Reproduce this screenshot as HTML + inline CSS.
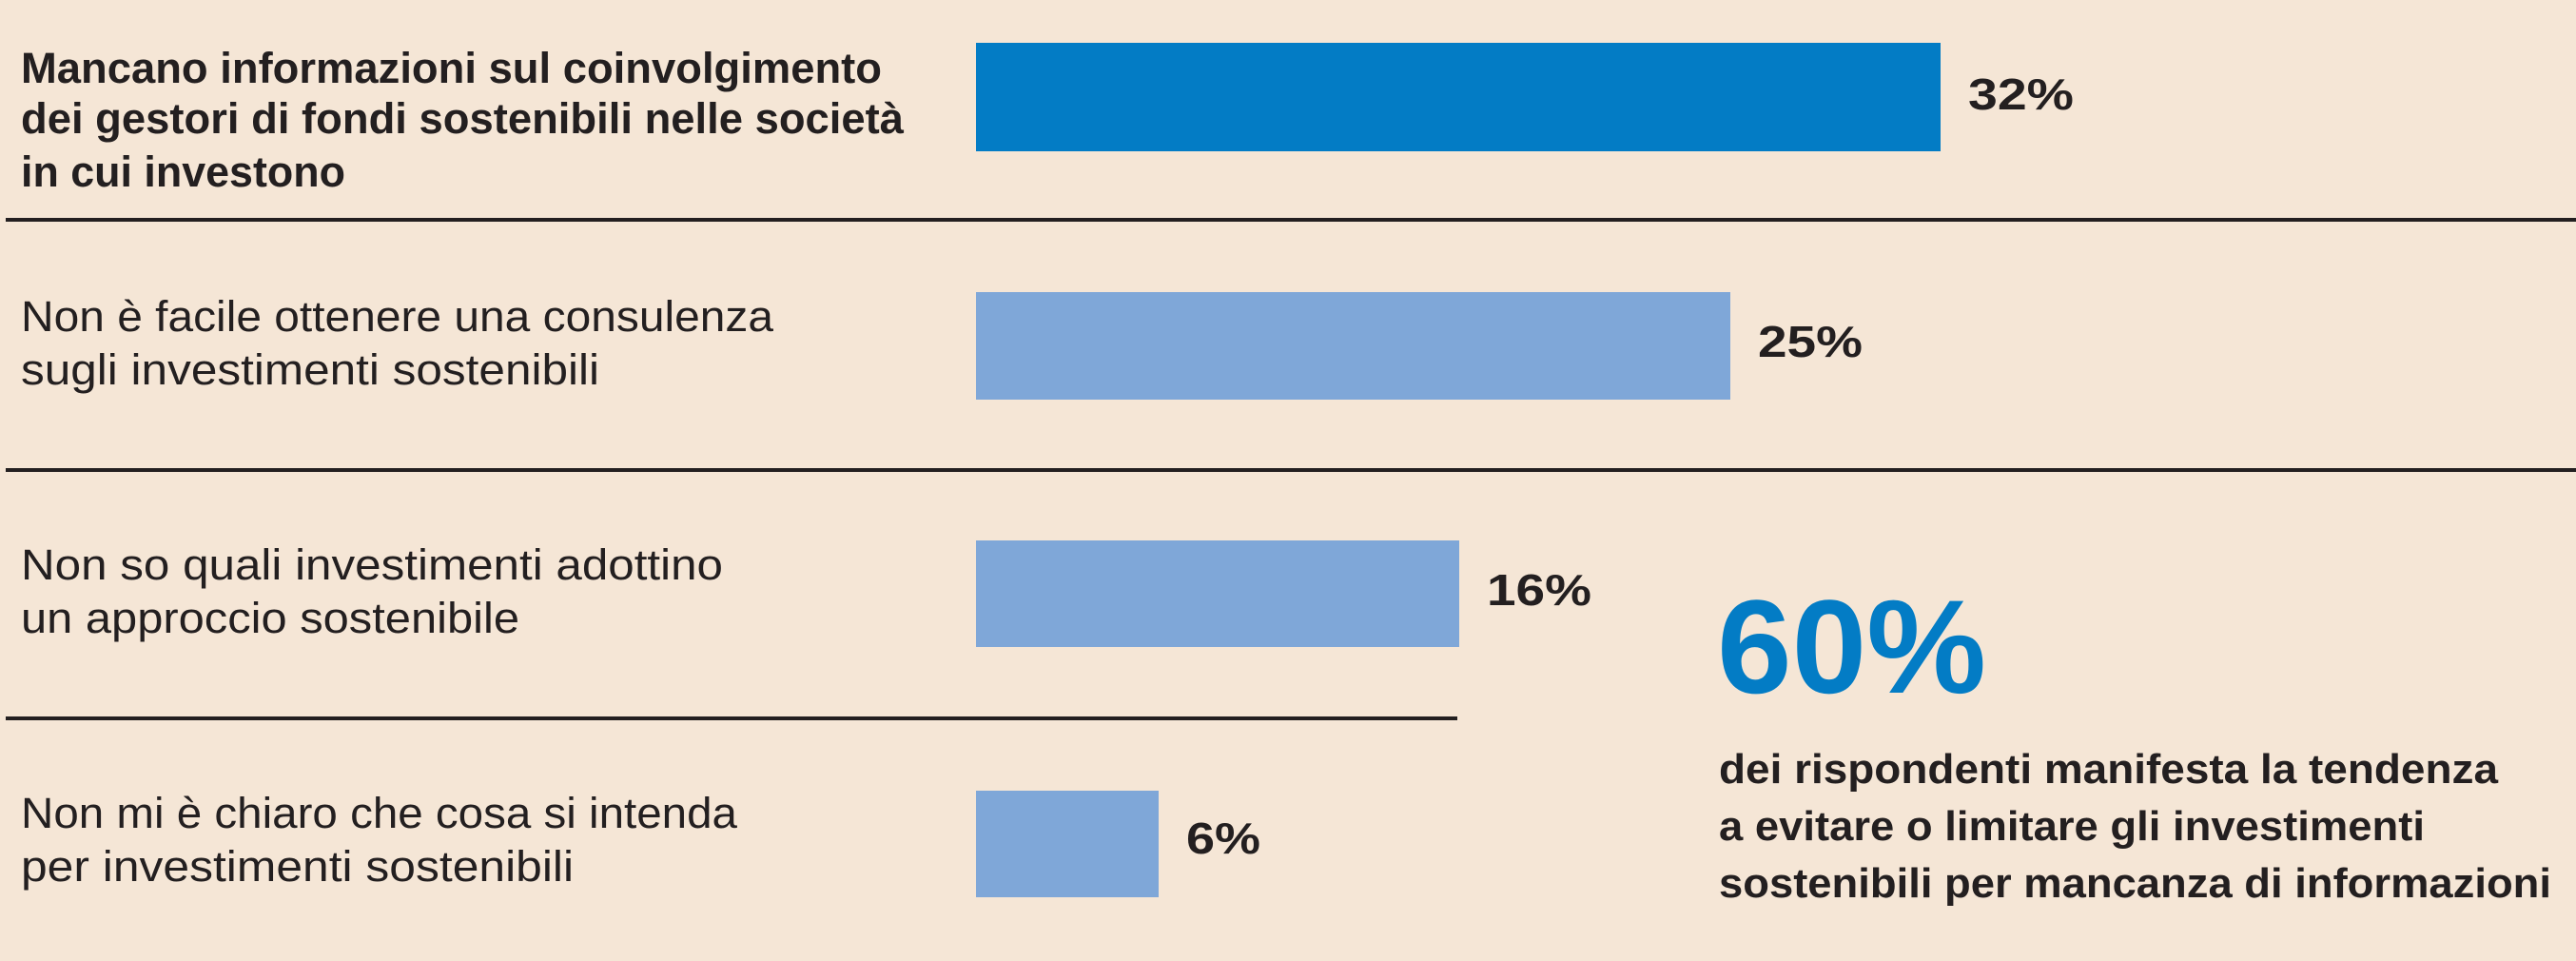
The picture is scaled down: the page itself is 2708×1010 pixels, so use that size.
<!DOCTYPE html>
<html><head><meta charset="utf-8"><style>
html,body{margin:0;padding:0;background:#f5e6d6;}
svg{display:block;}
text{font-family:"Liberation Sans",sans-serif;fill:#231f20;}
</style></head><body>
<svg width="2708" height="1010" viewBox="0 0 2708 1010" xmlns="http://www.w3.org/2000/svg">
<rect width="2708" height="1010" fill="#f5e6d6"/>
<rect x="1026" y="45" width="1014" height="114" fill="#037cc5"/>
<rect x="1026" y="307" width="793" height="113" fill="#7fa7d8"/>
<rect x="1026" y="568" width="508" height="112" fill="#7fa7d8"/>
<rect x="1026" y="831" width="192" height="112" fill="#7fa7d8"/>
<rect x="6" y="229" width="2702" height="4" fill="#231f20"/>
<rect x="6" y="492" width="2702" height="4" fill="#231f20"/>
<rect x="6" y="753" width="1526" height="4" fill="#231f20"/>
<g font-size="45">
<text x="22" y="87" textLength="905" lengthAdjust="spacingAndGlyphs" font-weight="bold">Mancano informazioni sul coinvolgimento</text>
<text x="22" y="140" textLength="928" lengthAdjust="spacingAndGlyphs" font-weight="bold">dei gestori di fondi sostenibili nelle società</text>
<text x="22" y="196" textLength="341" lengthAdjust="spacingAndGlyphs" font-weight="bold">in cui investono</text>
<text x="22" y="348" textLength="791" lengthAdjust="spacingAndGlyphs">Non è facile ottenere una consulenza</text>
<text x="22" y="404" textLength="608" lengthAdjust="spacingAndGlyphs">sugli investimenti sostenibili</text>
<text x="22" y="609" textLength="738" lengthAdjust="spacingAndGlyphs">Non so quali investimenti adottino</text>
<text x="22" y="665" textLength="524" lengthAdjust="spacingAndGlyphs">un approccio sostenibile</text>
<text x="22" y="870" textLength="753" lengthAdjust="spacingAndGlyphs">Non mi è chiaro che cosa si intenda</text>
<text x="22" y="926" textLength="581" lengthAdjust="spacingAndGlyphs">per investimenti sostenibili</text>
</g>
<g font-size="46" font-weight="bold">
<text x="2069" y="115" textLength="111" lengthAdjust="spacingAndGlyphs">32%</text>
<text x="1848" y="375" textLength="110" lengthAdjust="spacingAndGlyphs">25%</text>
<text x="1563" y="636" textLength="110" lengthAdjust="spacingAndGlyphs">16%</text>
<text x="1247" y="897" textLength="78" lengthAdjust="spacingAndGlyphs">6%</text>
</g>
<text x="1805" y="728" font-size="140" font-weight="bold" style="fill:#037cc5" textLength="283" lengthAdjust="spacingAndGlyphs">60%</text>
<g font-size="44" font-weight="bold">
<text x="1807" y="823" textLength="819" lengthAdjust="spacingAndGlyphs">dei rispondenti manifesta la tendenza</text>
<text x="1807" y="883" textLength="742" lengthAdjust="spacingAndGlyphs">a evitare o limitare gli investimenti</text>
<text x="1807" y="943" textLength="875" lengthAdjust="spacingAndGlyphs">sostenibili per mancanza di informazioni</text>
</g>
</svg>
</body></html>
